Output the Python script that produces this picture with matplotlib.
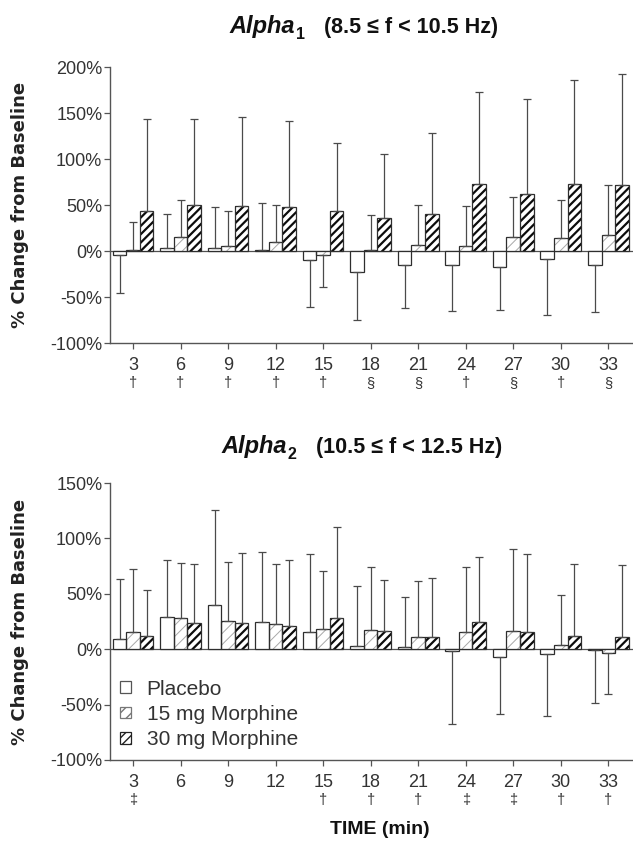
import matplotlib
matplotlib.use('Agg')
import matplotlib.pyplot as plt
import numpy as np
from matplotlib.patches import Patch

plt.rcParams['font.family'] = ['Liberation Sans', 'DejaVu Sans']
plt.rcParams['axes.unicode_minus'] = False

# ---------------- data ----------------
times = [3, 6, 9, 12, 15, 18, 21, 24, 27, 30, 33]
groups = ['Placebo', '15 mg Morphine', '30 mg Morphine']

# Alpha1 (8.5 <= f < 10.5 Hz): mean % change and SD (one-sided bars)
a1_placebo = [-4.3, 2.9, 3.6, 1.0, -9.8, -22.5, -15.2, -15.2, -17.4, -9.0, -15.6]
a1_placebo_sd = [41, 37.5, 44, 51, 51.5, 52.5, 47, 49.5, 46.5, 60.5, 51]
a1_m15 = [1.0, 14.9, 5.4, 9.8, -4.7, 1.0, 6.5, 5.0, 15.2, 13.8, 17.4]
a1_m15_sd = [31, 41, 38, 40.5, 34.5, 38, 44, 43.5, 43, 41.5, 54]
a1_m30 = [43.5, 50.4, 49.3, 47.8, 43.1, 35.9, 40.6, 72.5, 62.3, 73.2, 71.7]
a1_m30_sd = [100.5, 93.5, 96.5, 94, 74.5, 69.5, 87.5, 100.5, 102.5, 113, 121]
a1_marks = ['\u2020', '\u2020', '\u2020', '\u2020', '\u2020', '\u00a7', '\u00a7',
            '\u2020', '\u00a7', '\u2020', '\u00a7']

# Alpha2 (10.5 <= f < 12.5 Hz)
a2_placebo = [9.1, 29.1, 40.0, 24.2, 15.2, 3.0, 2.4, -1.2, -6.7, -4.2, -0.5]
a2_placebo_sd = [54, 51.5, 86, 63.5, 71, 54, 44.5, 66, 51.5, 56, 48.5]
a2_m15 = [15.8, 27.9, 25.1, 22.7, 18.2, 17.0, 11.2, 15.5, 16.4, 4.0, -3.3]
a2_m15_sd = [57, 50, 54, 54, 52.5, 57, 50, 59, 74, 45, 37.5]
a2_m30 = [11.5, 23.6, 23.6, 21.2, 28.2, 16.0, 11.2, 24.5, 15.5, 11.8, 10.6]
a2_m30_sd = [42, 53.5, 63, 59, 82.5, 46.5, 53, 59, 70, 65, 65]
a2_marks = ['\u2021', '', '', '', '\u2020', '\u2020', '\u2020', '\u2021', '\u2021',
            '\u2020', '\u2020']

# ---------------- figure ----------------
W, H = 633, 841
fig = plt.figure(figsize=(W / 100, H / 100), dpi=100)


def px_axes(l, t, r, b):
    return fig.add_axes([l / W, 1 - b / H, (r - l) / W, (b - t) / H])


ax1 = px_axes(110, 67, 633, 343)
ax2 = px_axes(110, 483, 633, 760)

EDGE = '#2e2e2e'
AXC = '#555555'
TXT = '#333333'
BW = 0.285

styles = [
    dict(hatch=None, hcolor=None, hlw=None),
    dict(hatch='///', hcolor='#a8a8a8', hlw=0.7),
    dict(hatch='////', hcolor='#0c0c0c', hlw=1.6),
]


def draw_series(ax, x, m, sd, st):
    m = np.asarray(m, float)
    sd = np.asarray(sd, float)
    if st['hatch']:
        with plt.rc_context({'hatch.linewidth': st['hlw']}):
            hb = ax.bar(x, m, BW, color='white', edgecolor=st['hcolor'],
                        hatch=st['hatch'], linewidth=0, zorder=2)
        for p in hb:
            if hasattr(p, 'set_hatch_linewidth'):
                p.set_hatch_linewidth(st['hlw'])
        ax.bar(x, m, BW, facecolor='none', edgecolor=EDGE, linewidth=0.9, zorder=3)
    else:
        ax.bar(x, m, BW, facecolor='white', edgecolor=EDGE, linewidth=0.9, zorder=3)
    up = np.where(m >= 0, sd, 0)
    dn = np.where(m < 0, sd, 0)
    ax.errorbar(x, m, yerr=[dn, up], fmt='none', ecolor='#4a4a4a',
                elinewidth=0.9, capsize=2.6, capthick=0.9, zorder=4)


def panel(ax, series, ymin, ymax, marks):
    idx = np.arange(len(times))
    for k, (m, sd) in enumerate(series):
        draw_series(ax, idx + (k - 1) * BW, m, sd, styles[k])
    ax.axhline(0, color='#505050', lw=0.9, zorder=1.5)
    ax.set_xlim(-0.485, 10.52)
    ax.set_ylim(ymin, ymax)
    yt = list(range(ymin, ymax + 1, 50))
    ax.set_yticks(yt)
    ax.set_yticklabels([f'{v}%' for v in yt])
    ax.set_xticks(idx)
    ax.set_xticklabels([str(t) for t in times])
    for s in ['top', 'right']:
        ax.spines[s].set_visible(False)
    for s in ['left', 'bottom']:
        ax.spines[s].set_color(AXC)
        ax.spines[s].set_linewidth(1.0)
    ax.tick_params(axis='both', direction='out', length=4, width=0.9,
                   colors=AXC, labelcolor=TXT, labelsize=13)
    ax.tick_params(axis='y', pad=1.5)
    ax.tick_params(axis='x', pad=6)
    for i, mk in enumerate(marks):
        if mk:
            ax.annotate(mk, xy=(i, 0), xycoords=('data', 'axes fraction'),
                        xytext=(0, -29), textcoords='offset points',
                        ha='center', va='center', fontsize=10.5, color=TXT,
                        annotation_clip=False)


panel(ax1, [(a1_placebo, a1_placebo_sd), (a1_m15, a1_m15_sd), (a1_m30, a1_m30_sd)],
      -100, 200, a1_marks)
panel(ax2, [(a2_placebo, a2_placebo_sd), (a2_m15, a2_m15_sd), (a2_m30, a2_m30_sd)],
      -100, 150, a2_marks)

# y labels
for ax, yc in [(ax1, (67 + 343) / 2), (ax2, (483 + 760) / 2)]:
    fig.text(20 / W, 1 - yc / H, '% Change from Baseline', rotation=90,
             ha='center', va='center', fontsize=13, fontweight='bold',
             family='DejaVu Sans', color='#222222')


# titles
def title(ax, x0, ybase, sub, rng):
    yb = 1 - ybase / H
    t1 = fig.text(x0 / W, yb, 'Alpha', fontsize=17, fontweight='bold',
                  fontstyle='italic', va='baseline', ha='left', color='#111111')
    t2 = ax.annotate(sub, xy=(1, yb), xycoords=(t1, 'figure fraction'),
                     xytext=(1, -4), textcoords='offset points', fontsize=11.5,
                     fontweight='bold', va='baseline', ha='left', color='#111111',
                     annotation_clip=False)
    ax.annotate(rng, xy=(1, yb), xycoords=(t2, 'figure fraction'),
                xytext=(14, 0), textcoords='offset points', fontsize=15.5,
                fontweight='bold', va='baseline', ha='left', color='#111111',
                annotation_clip=False)


title(ax1, 229, 33, '1', '(8.5 \u2264 f < 10.5 Hz)')
title(ax2, 221, 453, '2', '(10.5 \u2264 f < 12.5 Hz)')

fig.text(380 / W, 1 - 830 / H, 'TIME (min)', ha='center', va='center',
         fontsize=14, fontweight='bold', color='#111111')

# legend
handles = [
    Patch(facecolor='white', edgecolor='#555555', linewidth=0.9),
    Patch(facecolor='white', edgecolor='#777777', linewidth=0.9, hatch='///'),
    Patch(facecolor='white', edgecolor='#222222', linewidth=0.9, hatch='////'),
]
leg = ax2.legend(handles, groups, loc='upper left', bbox_to_anchor=(0.02, 0.29),
                 frameon=False, fontsize=15, handlelength=0.5, handleheight=0.5,
                 handletextpad=0.75, labelspacing=0.3, borderpad=0, borderaxespad=0)
for t in leg.get_texts():
    t.set_color(TXT)

fig.savefig('out.png', dpi=100, facecolor='white')
